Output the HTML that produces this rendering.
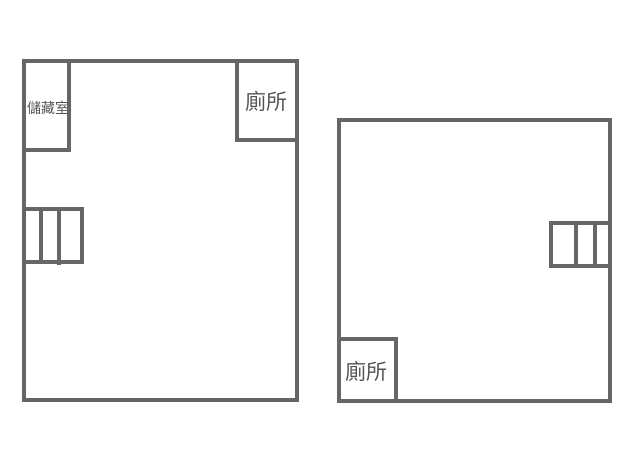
<!DOCTYPE html>
<html>
<head>
<meta charset="utf-8">
<style>
html,body{margin:0;padding:0;background:#fff;width:638px;height:460px;overflow:hidden}
svg{display:block}
text{font-family:"Liberation Sans","Noto Sans CJK TC","WenQuanYi Zen Hei",sans-serif;fill:#555}
</style>
</head>
<body>
<svg width="638" height="460" viewBox="0 0 638 460" xmlns="http://www.w3.org/2000/svg">
<rect width="638" height="460" fill="#fff"/>
<g fill="#666">
<!-- left room -->
<rect x="22" y="59" width="277" height="4"/>
<rect x="22" y="59" width="4" height="343"/>
<rect x="295" y="59" width="4" height="343"/>
<rect x="22" y="398" width="277" height="4"/>
<!-- storage -->
<rect x="67" y="59" width="4" height="93"/>
<rect x="22" y="148" width="49" height="4"/>
<!-- toilet -->
<rect x="235" y="59" width="4" height="83"/>
<rect x="235" y="138" width="64" height="4"/>
<!-- left stairs -->
<rect x="22" y="207" width="62" height="4"/>
<rect x="22" y="260" width="62" height="4"/>
<rect x="39" y="207" width="4" height="57"/>
<rect x="57" y="207" width="4" height="58"/>
<rect x="80" y="207" width="4" height="57"/>
<!-- right room -->
<rect x="337" y="118" width="275" height="4"/>
<rect x="337" y="118" width="4" height="285"/>
<rect x="608" y="118" width="4" height="285"/>
<rect x="337" y="399" width="275" height="4"/>
<!-- right toilet -->
<rect x="337" y="337" width="61" height="4"/>
<rect x="394" y="337" width="4" height="66"/>
<!-- right stairs -->
<rect x="549" y="221" width="63" height="4"/>
<rect x="549" y="264" width="63" height="4"/>
<rect x="549" y="221" width="4" height="47"/>
<rect x="574" y="221" width="4" height="47"/>
<rect x="593" y="221" width="4" height="47"/>
</g>
<text x="27" y="113" font-size="14">儲藏室</text>
<text x="245" y="109" font-size="21">廁所</text>
<text x="345" y="379" font-size="21">廁所</text>
</svg>
</body>
</html>
